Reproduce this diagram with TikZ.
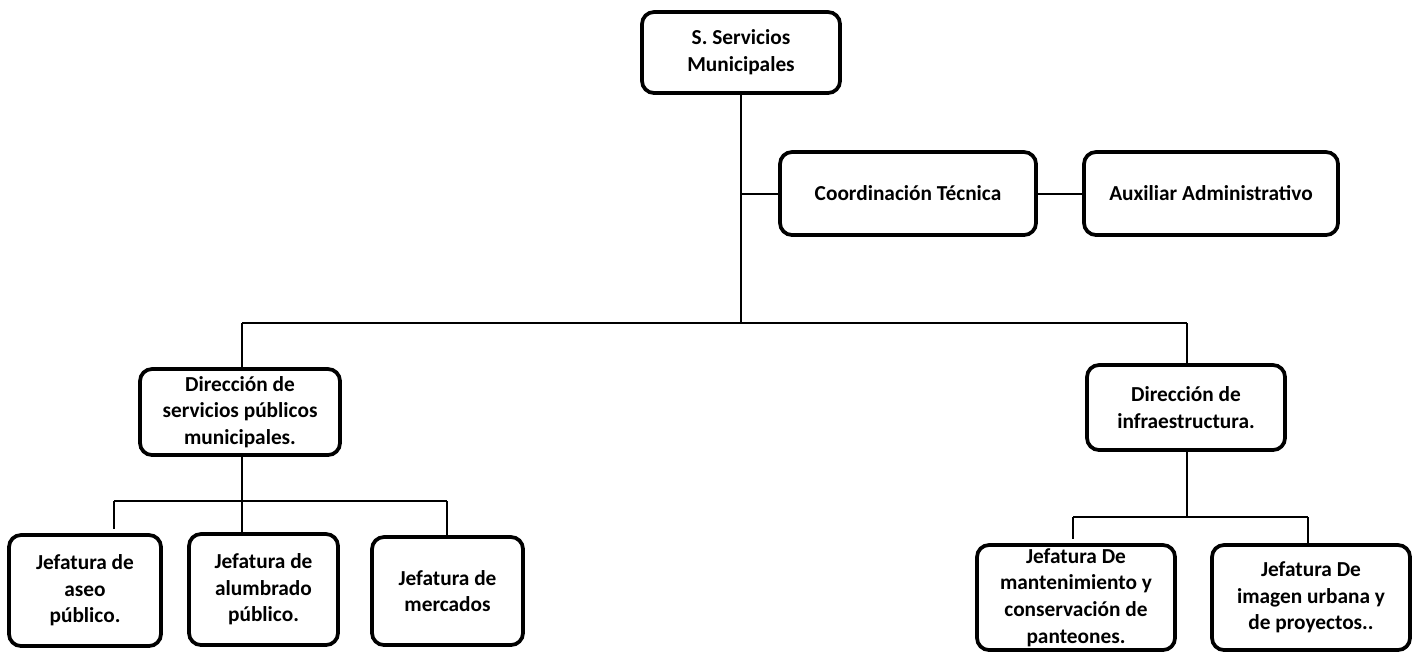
\documentclass[tikz,border=0pt]{standalone}
\usepackage{fontspec}
\setmainfont{Carlito}
\begin{document}
\begin{tikzpicture}[x=0.75pt,y=-0.75pt,
  caja/.style={draw,line width=2.8pt,rounded corners=9pt,align=center,
    font=\bfseries\fontsize{16}{20}\selectfont,inner sep=1pt},
  linea/.style={line width=1.5pt}]
\useasboundingbox (0,0) rectangle (1417,651);
\node[caja,minimum width=148.5pt,minimum height=60.75pt] (ss) at (741,52.5) {S. Servicios\\Municipales};
\node[caja,minimum width=192pt,minimum height=62.25pt] (coord) at (908,193.5) {Coordinación Técnica};
\node[caja,minimum width=190.5pt,minimum height=62.25pt] (aux) at (1211,193.5) {Auxiliar Administrativo};
\node[caja,minimum width=150pt,minimum height=64.5pt] (dsp) at (240,412) {Dirección de\\servicios públicos\\municipales.};
\node[caja,minimum width=148.5pt,minimum height=63.75pt] (dinf) at (1186,407.5) {Dirección de\\infraestructura.};
\node[caja,minimum width=114pt,minimum height=83.25pt] (jaseo) at (85,590.5) {Jefatura de\\aseo\\público.};
\node[caja,minimum width=111.75pt,minimum height=83.25pt] (jalum) at (263.5,589.5) {Jefatura de\\alumbrado\\público.};
\node[caja,minimum width=113.25pt,minimum height=81pt] (jmerc) at (447.5,591) {Jefatura de\\mercados};
\node[caja,minimum width=148.5pt,minimum height=78.75pt] (jmant) at (1076,597.5) {Jefatura De\\mantenimiento y\\conservación de\\panteones.};
\node[caja,minimum width=148.5pt,minimum height=78.75pt] (jimg) at (1311,597.5) {Jefatura De\\imagen urbana y\\de proyectos..};
\coordinate (bus) at (741,323);
\coordinate (busL) at (242,323);
\coordinate (busR) at (1187,323);
\coordinate (subL1) at (114,501);
\coordinate (subL3) at (447,501);
\coordinate (subR1) at (1073,517);
\coordinate (subR2) at (1308,517);
\draw[linea] (ss) -- (bus)
      (ss.south |- coord.west) -- (coord.west)
      (coord) -- (aux)
      (busL) -- (busR)
      (busL) -- (busL |- dsp.north)
      (busR) -- (busR |- dinf.north);
\draw[linea] (dsp.south -| busL) -- (jalum.north -| busL)
      (subL1) -- (subL3)
      (subL1) -- ([yshift=3pt]subL1 |- jaseo.north)
      (subL3) -- (subL3 |- jmerc.north);
\draw[linea] (dinf.south -| busR) -- (subR1 -| busR)
      (subR1) -- (subR2)
      (subR1) -- ([yshift=3pt]subR1 |- jmant.north)
      (subR2) -- (subR2 |- jimg.north);
\end{tikzpicture}
\end{document}
